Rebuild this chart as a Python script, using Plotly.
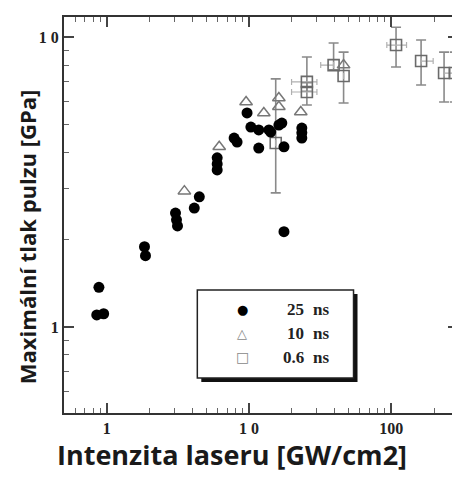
import plotly.graph_objects as go

# ---- data ----
ns25_x = [0.88, 0.85, 0.95, 1.84, 1.87, 3.04, 3.09, 3.14, 4.12, 4.47, 5.97, 5.97, 5.97,
          7.85, 8.24, 9.68, 10.3, 11.7, 13.8, 14.2, 16.2, 17.0, 11.7, 17.6, 23.5, 23.5, 23.5, 17.6]
ns25_y = [1.37, 1.10, 1.11, 1.89, 1.76, 2.47, 2.34, 2.23, 2.57, 2.81, 3.83, 3.65, 3.48,
          4.48, 4.34, 5.47, 4.89, 4.78, 4.78, 4.70, 4.97, 5.05, 4.14, 4.18, 4.85, 4.67, 4.48, 2.13]

ns10_x = [3.51, 6.17, 9.53, 12.7, 16.2, 16.2, 23.1, 46.2]
ns10_y = [2.94, 4.18, 5.97, 5.47, 6.16, 5.75, 5.51, 8.0]

ns06_x = [15.4, 25.5, 25.5, 39.3, 46.2, 108, 162, 235, 280]
ns06_y = [4.31, 7.0, 6.46, 8.0, 7.34, 9.38, 8.26, 7.51, 7.51]
ns06_ey_plus = [2.86, 1.53, 0.5, 1.53, 1.53, 1.42, 1.51, 1.36, 1.36]
ns06_ey_minus = [1.41, 0.5, 0.63, 0.3, 1.42, 1.5, 1.43, 1.54, 1.54]
ns06_ex_plus = [0, 4.5, 4.5, 0, 0, 20, 35, 45, 0]
ns06_ex_minus = [0, 5.6, 5.6, 7.4, 0, 15, 0, 0, 0]

x_ticks = [1, 10, 100]
x_ticktext = ["1", "1 0", "100"]
y_ticks = [1, 10]
y_ticktext = ["1", "1 0"]
x_minor = [0.6, 0.7, 0.8, 0.9] + [k for k in range(2, 10)] + [10 * k for k in range(2, 10)] + [200, 300]
y_minor = [0.6, 0.7, 0.8, 0.9] + [k for k in range(2, 10)]

legend_labels = ["25", "10", "0.6"]
legend_symbols = ["●", "△", "□"]

fig = go.Figure()

err_col = "#8a8a8a"
fig.add_trace(go.Scatter(
    x=ns06_x, y=ns06_y, mode="markers",
    marker=dict(symbol="square-open", size=11, color="#6a6a6a", line=dict(width=1.6)),
    error_y=dict(type="data", symmetric=False, array=ns06_ey_plus, arrayminus=ns06_ey_minus,
                 color=err_col, thickness=1.6, width=5),
    error_x=dict(type="data", symmetric=False, array=ns06_ex_plus, arrayminus=ns06_ex_minus,
                 color="#b0b0b0", thickness=1.2, width=3),
    showlegend=False))
fig.add_trace(go.Scatter(
    x=ns10_x, y=ns10_y, mode="markers",
    marker=dict(symbol="triangle-up-open", size=11, color="#777777", line=dict(width=1.5)),
    showlegend=False))
fig.add_trace(go.Scatter(
    x=ns25_x, y=ns25_y, mode="markers",
    marker=dict(symbol="circle", size=11, color="#000000"),
    showlegend=False))

tickfont = dict(family="Liberation Serif", size=16, color="#222222", weight="bold")
axis_common = dict(type="log", showgrid=False, zeroline=False, showline=True,
                   linecolor="#333333", linewidth=2, mirror="ticks",
                   ticks="inside", ticklen=10, tickwidth=1.5, tickcolor="#444444",
                   tickfont=tickfont)

fig.update_xaxes(range=[-0.301, 2.469], tickvals=x_ticks, ticktext=x_ticktext,
                 minor=dict(tickvals=x_minor, ticks="inside", ticklen=5, tickcolor="#666666", tickwidth=1.2),
                 **axis_common)
fig.update_yaxes(range=[-0.297, 1.069], tickvals=y_ticks, ticktext=y_ticktext,
                 minor=dict(tickvals=y_minor, ticks="inside", ticklen=5, tickcolor="#666666", tickwidth=1.2),
                 **axis_common)

# legend box (drawn manually) with shadow; helpers map page pixels -> paper
W, H = 396.0, 396.0
def px(xp):
    return (xp - 64) / W
def py(yp):
    return (413 - yp) / H

fig.add_shape(type="rect", xref="paper", yref="paper",
              x0=px(202), x1=px(359), y0=py(294), y1=py(382),
              fillcolor="#111111", line=dict(width=0), layer="above")
fig.add_shape(type="rect", xref="paper", yref="paper",
              x0=px(198), x1=px(355), y0=py(290), y1=py(378),
              fillcolor="white", line=dict(color="#222222", width=1.5), layer="above")

rows = [309, 333, 357]
sym_colors = ["#000000", "#888888", "#888888"]
sym_sizes = [13, 13, 14]
for lab, sym, r, c, s in zip(legend_labels, legend_symbols, rows, sym_colors, sym_sizes):
    fig.add_annotation(x=px(243), y=py(r), xref="paper", yref="paper", text=sym,
                       xanchor="center", yanchor="middle",
                       showarrow=False, font=dict(size=s, color=c, family="DejaVu Sans"))
    fig.add_annotation(x=px(307), y=py(r), xref="paper", yref="paper", text=lab,
                       xanchor="right", yanchor="middle", showarrow=False,
                       font=dict(family="Liberation Serif", size=17, color="#222222", weight="bold"))
    fig.add_annotation(x=px(312), y=py(r), xref="paper", yref="paper", text="ns",
                       xanchor="left", yanchor="middle", showarrow=False,
                       font=dict(family="Liberation Serif", size=17, color="#222222", weight="bold"))

# axis titles
fig.add_annotation(x=px(233), y=py(455), xref="paper", yref="paper",
                   text="Intenzita laseru [GW/cm2]", showarrow=False,
                   xanchor="center", yanchor="middle",
                   font=dict(family="Open Sans", size=27, color="#1a1a1a", weight="bold"))
fig.add_annotation(x=px(27), y=py(237), xref="paper", yref="paper",
                   text="Maximální tlak pulzu [GPa]", showarrow=False, textangle=-90,
                   xanchor="center", yanchor="middle",
                   font=dict(family="Open Sans", size=22, color="#1a1a1a", weight="bold"))

# page has an 8px body margin: figure is 452x472 placed at (8,8)
fig.update_layout(width=452, height=472, margin=dict(l=56, r=0, t=9, b=67),
                  plot_bgcolor="white", paper_bgcolor="white", showlegend=False)

fig.write_html("out.html")
